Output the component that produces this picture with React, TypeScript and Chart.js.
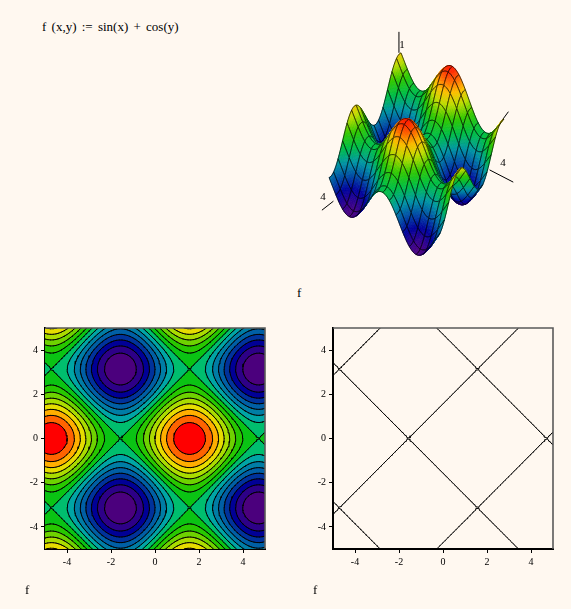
import React, { useEffect, useRef } from "react";
import { Chart, registerables } from "chart.js";
Chart.register(...registerables);

const PAGE_BG = "#fff8f0";
const GRID_MIN = -5;
const GRID_STEP = 0.125;
// sin(x) read at x = -5 … 5, step 0.125
const sinProfile = [
  0.959,0.986,0.999,0.996,0.978,0.944,0.895,0.832,0.757,0.669,0.572,0.465,0.351,0.231,0.108,-0.017,-0.141,-0.264,-0.382,-0.494,
  -0.598,-0.694,-0.778,-0.850,-0.909,-0.954,-0.984,-0.9985,-0.9975,-0.981,-0.949,-0.902,-0.841,-0.767,-0.682,-0.585,-0.479,-0.366,-0.247,-0.125,
  0,
  0.125,0.247,0.366,0.479,0.585,0.682,0.767,0.841,0.902,0.949,0.981,0.9975,0.9985,0.984,0.954,0.909,0.850,0.778,0.694,
  0.598,0.494,0.382,0.264,0.141,0.017,-0.108,-0.231,-0.351,-0.465,-0.572,-0.669,-0.757,-0.832,-0.895,-0.944,-0.978,-0.996,-0.999,-0.986,-0.959,
];
// cos(y) read at y = -5 … 5, step 0.125
const cosProfile = [
  0.284,0.162,0.038,-0.087,-0.211,-0.331,-0.446,-0.554,-0.654,-0.743,-0.821,-0.886,-0.937,-0.973,-0.994,-1.0,-0.990,-0.965,-0.924,-0.869,
  -0.801,-0.720,-0.628,-0.526,-0.416,-0.300,-0.178,-0.054,0.071,0.195,0.315,0.431,0.540,0.641,0.732,0.811,0.878,0.930,0.969,0.992,
  1,
  0.992,0.969,0.930,0.878,0.811,0.732,0.641,0.540,0.431,0.315,0.195,0.071,-0.054,-0.178,-0.300,-0.416,-0.526,-0.628,-0.720,
  -0.801,-0.869,-0.924,-0.965,-0.990,-1.0,-0.994,-0.973,-0.937,-0.886,-0.821,-0.743,-0.654,-0.554,-0.446,-0.331,-0.211,-0.087,0.038,0.162,0.284,
];
const tickValues = [-4, -2, 0, 2, 4];
const contourLevels = [-1.75,-1.5,-1.25,-1,-0.75,-0.5,-0.25,0,0.25,0.5,0.75,1,1.25,1.5,1.75];
const bandColors = [
  "#4b007d","#2d0087","#000096","#00329b","#005fa5","#007da5","#00a5a5","#00be6e",
  "#0ac314","#28c800","#6ed200","#aadc00","#e6dc00","#ffaf00","#ff6400","#ff0000",
];
const zeroLevels = [0];
const surfaceStops = [-2,-1.7,-1.4,-1,-0.5,0,0.5,1,1.4,1.7,2];
const surfaceColors = [
  [75,0,130],[40,0,145],[0,0,155],[0,70,165],[0,150,165],[0,190,70],[50,200,0],[190,220,0],[255,190,0],[255,110,0],[255,30,0],
];
const view = { ox: 417.5, oy: 151, ax: -7.0, ay: 8.44, bx: 10.49, by: 6.33, cx: 0.038, cy: -0.057, e: -0.016, k: 21.6 };
const axisLines3d = [
  [[-5,-5.2,1.2],[-5,-5.2,2.17]],
  [[4.4,-5,-2],[6,-5,-1.8]],
  [[-5,3.6,-1.63],[-5,5.9,-1.33]],
  [[-5.65,5,1.35],[-4.2,5,1.25]],
];
const axisLabels3d = [
  { text: "1", p: [-5,-5,1.61], dx: 1, dy: 0 },
  { text: "4", p: [6,-5,-1.8], dx: 1, dy: -13 },
  { text: "4", p: [-5,3.6,-1.63], dx: 13.5, dy: -7 },
];
const MESH_EVERY = 5;

const N = sinProfile.length;
const coord = (i: number) => GRID_MIN + i * GRID_STEP;
const zAt = (i: number, j: number) => sinProfile[i] + cosProfile[j];

function contourSegments(level: number) {
  const pts: { x: number; y: number }[] = [];
  const lerp = (a: number, b: number) => (level - a) / (b - a);
  for (let i = 0; i < N - 1; i++) {
    for (let j = 0; j < N - 1; j++) {
      const c = [
        { x: coord(i), y: coord(j), z: zAt(i, j) },
        { x: coord(i + 1), y: coord(j), z: zAt(i + 1, j) },
        { x: coord(i + 1), y: coord(j + 1), z: zAt(i + 1, j + 1) },
        { x: coord(i), y: coord(j + 1), z: zAt(i, j + 1) },
      ];
      const cross: { x: number; y: number }[] = [];
      for (let e = 0; e < 4; e++) {
        const p = c[e], q = c[(e + 1) % 4];
        if ((p.z >= level) !== (q.z >= level)) {
          const t = lerp(p.z, q.z);
          cross.push({ x: p.x + (q.x - p.x) * t, y: p.y + (q.y - p.y) * t });
        }
      }
      if (cross.length === 2) {
        pts.push(cross[0], cross[1], { x: NaN, y: NaN });
      } else if (cross.length === 4) {
        const mean = (c[0].z + c[1].z + c[2].z + c[3].z) / 4;
        const c0hi = c[0].z >= level, midHi = mean >= level;
        if (c0hi === midHi) {
          pts.push(cross[0], cross[1], { x: NaN, y: NaN }, cross[2], cross[3], { x: NaN, y: NaN });
        } else {
          pts.push(cross[3], cross[0], { x: NaN, y: NaN }, cross[1], cross[2], { x: NaN, y: NaN });
        }
      }
    }
  }
  return pts;
}

const bandPlugin = {
  id: "bands",
  beforeDatasetsDraw(chart: any) {
    const { ctx, chartArea: a, scales } = chart;
    const sx = scales.x, sy = scales.y;
    ctx.save();
    ctx.beginPath();
    ctx.rect(a.left, a.top, a.width, a.height);
    ctx.clip();
    ctx.fillStyle = bandColors[0];
    ctx.fillRect(a.left, a.top, a.width, a.height);
    contourLevels.forEach((level, idx) => {
      ctx.beginPath();
      for (let i = 0; i < N - 1; i++) {
        for (let j = 0; j < N - 1; j++) {
          const c = [
            [coord(i), coord(j), zAt(i, j)],
            [coord(i + 1), coord(j), zAt(i + 1, j)],
            [coord(i + 1), coord(j + 1), zAt(i + 1, j + 1)],
            [coord(i), coord(j + 1), zAt(i, j + 1)],
          ];
          const poly: number[][] = [];
          for (let e = 0; e < 4; e++) {
            const p = c[e], q = c[(e + 1) % 4];
            if (p[2] >= level) poly.push([p[0], p[1]]);
            if ((p[2] >= level) !== (q[2] >= level)) {
              const t = (level - p[2]) / (q[2] - p[2]);
              poly.push([p[0] + (q[0] - p[0]) * t, p[1] + (q[1] - p[1]) * t]);
            }
          }
          if (poly.length < 3) continue;
          poly.forEach((v, n) => {
            const px = sx.getPixelForValue(v[0]), py = sy.getPixelForValue(v[1]);
            if (n === 0) ctx.moveTo(px, py); else ctx.lineTo(px, py);
          });
          ctx.closePath();
        }
      }
      ctx.fillStyle = bandColors[idx + 1];
      ctx.fill();
    });
    ctx.restore();
  },
};

const framePlugin = {
  id: "frame",
  afterDraw(chart: any) {
    const { ctx, chartArea: a } = chart;
    ctx.save();
    ctx.strokeStyle = "#5a5a5a";
    ctx.lineWidth = 1.6;
    ctx.beginPath();
    ctx.moveTo(a.left, a.top);
    ctx.lineTo(a.right, a.top);
    ctx.lineTo(a.right, a.bottom);
    ctx.stroke();
    ctx.restore();
  },
};

function panelOptions(): any {
  return {
    animation: false,
    responsive: false,
    events: [],
    layout: { padding: { left: 21, right: 20, top: 28, bottom: 17 } },
    plugins: { legend: { display: false }, tooltip: { enabled: false } },
    scales: {
      x: {
        type: "linear", min: -5, max: 5,
        afterBuildTicks: (s: any) => { s.ticks = tickValues.map((value) => ({ value })); },
        afterFit: (s: any) => { s.height = 24; },
        grid: { drawOnChartArea: false, tickColor: "#000", tickLength: 4, tickWidth: 1 },
        border: { color: "#000", width: 2 },
        ticks: { color: "#000", font: { family: "Liberation Serif", size: 10 }, padding: 3, maxRotation: 0, autoSkip: false },
      },
      y: {
        type: "linear", min: -5, max: 5,
        afterBuildTicks: (s: any) => { s.ticks = tickValues.map((value) => ({ value })); },
        afterFit: (s: any) => { s.width = 24; },
        grid: { drawOnChartArea: false, tickColor: "#000", tickLength: 4, tickWidth: 1 },
        border: { color: "#000", width: 2 },
        ticks: { color: "#000", font: { family: "Liberation Serif", size: 10 }, padding: 3, autoSkip: false },
      },
    },
  };
}

const lineSet = (level: number, width: number) => ({
  data: contourSegments(level),
  showLine: true,
  pointRadius: 0,
  borderColor: "#000",
  borderWidth: width,
  borderCapStyle: "round",
  spanGaps: false,
  tension: 0,
});

function viewXY(p: number[]) {
  const [x, y, z] = p;
  return {
    x: view.ox + x * view.ax + y * (view.bx + view.cx * x),
    y: view.oy + x * view.ay + y * (view.by + view.cy * x) + view.e * (x - 5) * y * y - z * view.k,
  };
}
function project(p: number[], sx: any, sy: any) {
  const v = viewXY(p);
  return [sx.getPixelForValue(v.x), sy.getPixelForValue(v.y)];
}
function surfaceColor(z: number) {
  let s = 0;
  while (s < surfaceStops.length - 2 && z > surfaceStops[s + 1]) s++;
  const t = Math.min(1, Math.max(0, (z - surfaceStops[s]) / (surfaceStops[s + 1] - surfaceStops[s])));
  const a = surfaceColors[s], b = surfaceColors[s + 1];
  return `rgb(${a.map((v, n) => Math.round(v + (b[n] - v) * t)).join(",")})`;
}

const surfacePlugin = {
  id: "surface",
  afterDatasetsDraw(chart: any) {
    const { ctx, scales } = chart;
    const sx = scales.x, sy = scales.y;
    const P = (i: number, j: number) => project([coord(i), coord(j), zAt(i, j)], sx, sy);
    ctx.save();
    ctx.lineJoin = "round";
    const M = MESH_EVERY;
    for (let I = 0; I < N - 1; I += M) {
      for (let J = 0; J < N - 1; J += M) {
        for (let i = I; i < I + M; i++) {
          for (let j = J; j < J + M; j++) {
            const q = [P(i, j), P(i + 1, j), P(i + 1, j + 1), P(i, j + 1)];
            const col = surfaceColor((zAt(i, j) + zAt(i + 1, j) + zAt(i + 1, j + 1) + zAt(i, j + 1)) / 4);
            ctx.fillStyle = col;
            ctx.strokeStyle = col;
            ctx.lineWidth = 0.7;
            ctx.beginPath();
            q.forEach((v, n) => (n ? ctx.lineTo(v[0], v[1]) : ctx.moveTo(v[0], v[1])));
            ctx.closePath();
            ctx.fill();
            ctx.stroke();
          }
        }
        ctx.strokeStyle = "rgba(0,0,0,0.75)";
        ctx.lineWidth = 0.9;
        ctx.beginPath();
        let first = true;
        const go = (i: number, j: number) => {
          const v = P(i, j);
          if (first) { ctx.moveTo(v[0], v[1]); first = false; } else ctx.lineTo(v[0], v[1]);
        };
        for (let k = 0; k <= M; k++) go(I + k, J);
        for (let k = 1; k <= M; k++) go(I + M, J + k);
        for (let k = 1; k <= M; k++) go(I + M - k, J + M);
        for (let k = 1; k <= M; k++) go(I, J + M - k);
        ctx.stroke();
      }
    }
    ctx.fillStyle = "#000";
    ctx.font = "11px 'Liberation Serif'";
    ctx.textAlign = "center";
    ctx.textBaseline = "middle";
    axisLabels3d.forEach((l) => {
      const v = project(l.p, sx, sy);
      ctx.fillText(l.text, v[0] + l.dx, v[1] + l.dy);
    });
    ctx.restore();
  },
};

function useChart(config: () => any) {
  const ref = useRef<HTMLCanvasElement>(null);
  useEffect(() => {
    const chart = new Chart(ref.current as HTMLCanvasElement, config());
    return () => chart.destroy();
  }, []);
  return ref;
}

const textStyle = (left: number, top: number, size = 13): React.CSSProperties => ({
  position: "absolute", left, top, fontFamily: "'Liberation Serif', serif", fontSize: size, color: "#000", whiteSpace: "pre", lineHeight: "16px",
});
const canvasStyle = (left: number, top: number): React.CSSProperties => ({ position: "absolute", left, top, display: "block" });

export default function App() {
  const surfaceRef = useChart(() => ({
    type: "scatter",
    data: {
      datasets: axisLines3d.map((seg) => ({
        data: seg.map((p) => viewXY(p)),
        showLine: true, pointRadius: 0, borderColor: "#000", borderWidth: 1,
      })),
    },
    options: {
      animation: false, responsive: false, events: [],
      layout: { padding: 0 },
      plugins: { legend: { display: false }, tooltip: { enabled: false } },
      scales: {
        x: { type: "linear", min: 300, max: 530, display: false },
        y: { type: "linear", min: 20, max: 270, reverse: true, display: false },
      },
    },
    plugins: [surfacePlugin],
  }));
  const filledRef = useChart(() => ({
    type: "scatter",
    data: { datasets: contourLevels.map((l) => lineSet(l, 1)) },
    options: panelOptions(),
    plugins: [bandPlugin, framePlugin],
  }));
  const lineRef = useChart(() => ({
    type: "scatter",
    data: { datasets: zeroLevels.map((l) => lineSet(l, 1)) },
    options: panelOptions(),
    plugins: [framePlugin],
  }));
  return (
    <div style={{ position: "fixed", left: 0, top: 0, width: 571, height: 609, background: PAGE_BG, overflow: "hidden" }}>
      <div style={{ ...textStyle(42, 19), wordSpacing: 2 }}>{"f (x,y) := sin(x) + cos(y)"}</div>
      <canvas ref={surfaceRef} width={230} height={250} style={canvasStyle(300, 20)} />
      <div style={textStyle(297, 285)}>f</div>
      <canvas ref={filledRef} width={285} height={290} style={canvasStyle(0, 300)} />
      <canvas ref={lineRef} width={285} height={290} style={canvasStyle(288, 300)} />
      <div style={textStyle(25, 582)}>f</div>
      <div style={textStyle(313, 582)}>f</div>
    </div>
  );
}
